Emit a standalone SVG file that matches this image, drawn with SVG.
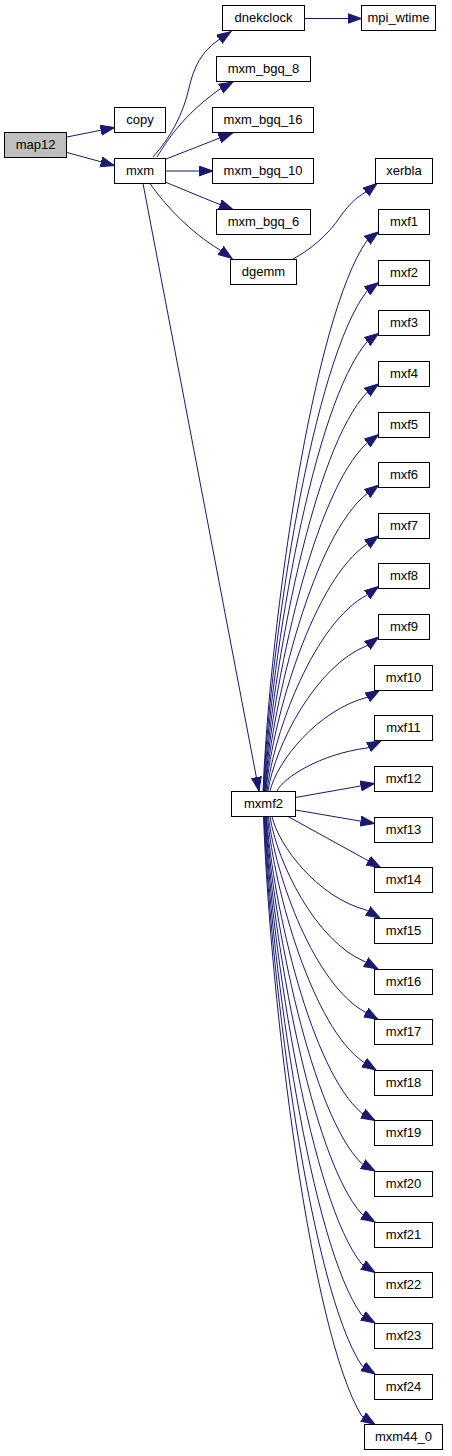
<svg xmlns="http://www.w3.org/2000/svg" width="452" height="1456" viewBox="0 0 452 1456">
<style>
.n rect{fill:#ffffff;stroke:#000000;stroke-width:1}
.n.root rect{fill:#bfbfbf}
.n text{font-family:"Liberation Sans",Arial,sans-serif;font-size:13px;fill:#000000;text-anchor:middle}
.e{fill:none;stroke:#191970;stroke-width:1;marker-end:url(#ah)}
</style>
<defs>
<marker id="ah" markerUnits="userSpaceOnUse" markerWidth="16" markerHeight="12" refX="14" refY="5.5" orient="auto">
<path d="M0,0.5 L14,5.5 L0,10.5 Z" fill="#191970" stroke="#191970" stroke-width="1"/>
</marker>
</defs>
<rect width="452" height="1456" fill="#ffffff"/>
<g id="edges">
<path class="e" d="M67,137 L114.5,127.5"/>
<path class="e" d="M67,152.5 L114.5,165.5"/>
<path class="e" d="M153,157 C170,138 183,115 189,88 C194,66 202,52 217,41 L231,31.5"/>
<path class="e" d="M157,157 C167,141 182,116 220,89 L233,82"/>
<path class="e" d="M166,159 L232.5,133"/>
<path class="e" d="M165.5,171 L213,171"/>
<path class="e" d="M165,182 C185,190 205,199 233,209.5"/>
<path class="e" d="M150,183.5 C165,205 190,232 220,250 L232,258.5"/>
<path class="e" d="M304.5,18.5 L361.5,18.5"/>
<path class="e" d="M293,259 C310,250 328,235 340,217 C350,203 357,197 366,192 L377,183.5"/>
<path class="e" d="M143,183.5 L259,791"/>
<path class="e" d="M263,791 C270.3,620.3 312.9,317.6 367,240.5 L378.5,232"/>
<path class="e" d="M263.5,791 C270.7,636 313.2,361 367,291 L378.5,282.6"/>
<path class="e" d="M264,791 C271.2,651.7 313.4,404.7 367,341.8 L378.5,333.3"/>
<path class="e" d="M264.5,791 C271.7,667.4 313.7,448.2 367,392.4 L378.5,383.9"/>
<path class="e" d="M265,791 C272.1,683.2 314,491.8 367,443.1 L378.5,434.6"/>
<path class="e" d="M265.5,791 C272.6,698.8 314.2,535.3 367,493.7 L378.5,485.2"/>
<path class="e" d="M266,791 C273.1,714.5 314.5,578.8 367,544.3 L378.5,535.8"/>
<path class="e" d="M267,791 C274,730.2 315,622.4 367,595 L378.5,586.5"/>
<path class="e" d="M268,791 C274.9,745.9 315.5,666 367,645.6 L378.5,637.1"/>
<path class="e" d="M270,791 C276.9,761.9 317,710.2 368,697 L379.5,690.3"/>
<path class="e" d="M277,791 C283.3,777.7 320.2,754 367,748 L381,741"/>
<path class="e" d="M295.5,797.5 L374.5,783.5"/>
<path class="e" d="M295.5,810 L374.5,823.5"/>
<path class="e" d="M288,816.5 L380.5,867.5"/>
<path class="e" d="M272,816.5 C278.6,845.5 317.1,896.9 366,910 L380,918"/>
<path class="e" d="M270,816.5 C276.7,861.5 315.6,941.4 365,961.7 L378,969"/>
<path class="e" d="M268.5,816.5 C275.3,877.1 314.8,984.6 365,1012 L378,1019.5"/>
<path class="e" d="M267.5,816.5 C274.2,892.6 313.5,1027.6 363.3,1062 L376,1070"/>
<path class="e" d="M266.5,816.5 C273.2,908.4 312.2,1071.5 361.7,1113 L375,1120.5"/>
<path class="e" d="M266,816.5 C272.7,924.1 311.9,1114.9 361.7,1163.5 L375,1171"/>
<path class="e" d="M265.5,816.5 C272.2,939.7 311.7,1158.4 361.7,1214 L375,1222"/>
<path class="e" d="M265,816.5 C271.8,955.2 311.4,1201.4 361.7,1264 L375,1272.5"/>
<path class="e" d="M264.5,816.5 C271.3,971 311.2,1245.2 361.7,1315 L375,1323"/>
<path class="e" d="M264,816.5 C270.8,986.7 310.9,1288.6 361.7,1365.5 L375,1374"/>
<path class="e" d="M263.5,816.5 C270.4,1002.3 310.6,1332.1 361.7,1416 L375,1424.5"/>
</g>
<g id="node-map12" class="n root"><rect x="4.5" y="132.5" width="62" height="25"/><text x="35.5" y="149">map12</text></g>
<g id="node-copy" class="n"><rect x="114.5" y="107.5" width="51" height="25"/><text x="140" y="124">copy</text></g>
<g id="node-mxm" class="n"><rect x="114.5" y="158.5" width="51" height="25"/><text x="140" y="175">mxm</text></g>
<g id="node-dnekclock" class="n"><rect x="222.5" y="5.5" width="82" height="25"/><text x="263.5" y="22">dnekclock</text></g>
<g id="node-mpi_wtime" class="n"><rect x="361.5" y="5.5" width="74" height="25"/><text x="398.5" y="22">mpi_wtime</text></g>
<g id="node-mxm_bgq_8" class="n"><rect x="216.5" y="56.5" width="94" height="25"/><text x="263.5" y="73">mxm_bgq_8</text></g>
<g id="node-mxm_bgq_16" class="n"><rect x="212.5" y="107.5" width="101" height="25"/><text x="263" y="124">mxm_bgq_16</text></g>
<g id="node-mxm_bgq_10" class="n"><rect x="212.5" y="158.5" width="101" height="25"/><text x="263" y="175">mxm_bgq_10</text></g>
<g id="node-mxm_bgq_6" class="n"><rect x="216.5" y="209.5" width="94" height="25"/><text x="263.5" y="226">mxm_bgq_6</text></g>
<g id="node-dgemm" class="n"><rect x="230.5" y="259.5" width="66" height="25"/><text x="263.5" y="276">dgemm</text></g>
<g id="node-xerbla" class="n"><rect x="375.5" y="158.5" width="57" height="25"/><text x="404" y="175">xerbla</text></g>
<g id="node-mxmf2" class="n"><rect x="231.5" y="791.5" width="64" height="25"/><text x="263.5" y="808">mxmf2</text></g>
<g id="node-mxf1" class="n"><rect x="378.5" y="209.5" width="51" height="25"/><text x="404" y="226">mxf1</text></g>
<g id="node-mxf2" class="n"><rect x="378.5" y="260.5" width="51" height="25"/><text x="404" y="277">mxf2</text></g>
<g id="node-mxf3" class="n"><rect x="378.5" y="310.5" width="51" height="25"/><text x="404" y="327">mxf3</text></g>
<g id="node-mxf4" class="n"><rect x="378.5" y="361.5" width="51" height="25"/><text x="404" y="378">mxf4</text></g>
<g id="node-mxf5" class="n"><rect x="378.5" y="412.5" width="51" height="25"/><text x="404" y="429">mxf5</text></g>
<g id="node-mxf6" class="n"><rect x="378.5" y="462.5" width="51" height="25"/><text x="404" y="479">mxf6</text></g>
<g id="node-mxf7" class="n"><rect x="378.5" y="513.5" width="51" height="25"/><text x="404" y="530">mxf7</text></g>
<g id="node-mxf8" class="n"><rect x="378.5" y="563.5" width="51" height="25"/><text x="404" y="580">mxf8</text></g>
<g id="node-mxf9" class="n"><rect x="378.5" y="614.5" width="51" height="25"/><text x="404" y="631">mxf9</text></g>
<g id="node-mxf10" class="n"><rect x="374.5" y="665.5" width="58" height="25"/><text x="403.5" y="682">mxf10</text></g>
<g id="node-mxf11" class="n"><rect x="374.5" y="715.5" width="58" height="25"/><text x="403.5" y="732">mxf11</text></g>
<g id="node-mxf12" class="n"><rect x="374.5" y="766.5" width="58" height="25"/><text x="403.5" y="783">mxf12</text></g>
<g id="node-mxf13" class="n"><rect x="374.5" y="817.5" width="58" height="25"/><text x="403.5" y="834">mxf13</text></g>
<g id="node-mxf14" class="n"><rect x="374.5" y="867.5" width="58" height="25"/><text x="403.5" y="884">mxf14</text></g>
<g id="node-mxf15" class="n"><rect x="374.5" y="918.5" width="58" height="25"/><text x="403.5" y="935">mxf15</text></g>
<g id="node-mxf16" class="n"><rect x="374.5" y="969.5" width="58" height="25"/><text x="403.5" y="986">mxf16</text></g>
<g id="node-mxf17" class="n"><rect x="374.5" y="1019.5" width="58" height="25"/><text x="403.5" y="1036">mxf17</text></g>
<g id="node-mxf18" class="n"><rect x="374.5" y="1070.5" width="58" height="25"/><text x="403.5" y="1087">mxf18</text></g>
<g id="node-mxf19" class="n"><rect x="374.5" y="1120.5" width="58" height="25"/><text x="403.5" y="1137">mxf19</text></g>
<g id="node-mxf20" class="n"><rect x="374.5" y="1171.5" width="58" height="25"/><text x="403.5" y="1188">mxf20</text></g>
<g id="node-mxf21" class="n"><rect x="374.5" y="1222.5" width="58" height="25"/><text x="403.5" y="1239">mxf21</text></g>
<g id="node-mxf22" class="n"><rect x="374.5" y="1272.5" width="58" height="25"/><text x="403.5" y="1289">mxf22</text></g>
<g id="node-mxf23" class="n"><rect x="374.5" y="1323.5" width="58" height="25"/><text x="403.5" y="1340">mxf23</text></g>
<g id="node-mxf24" class="n"><rect x="374.5" y="1374.5" width="58" height="25"/><text x="403.5" y="1391">mxf24</text></g>
<g id="node-mxm44_0" class="n"><rect x="364.5" y="1424.5" width="78" height="25"/><text x="403.5" y="1441">mxm44_0</text></g>
</svg>
